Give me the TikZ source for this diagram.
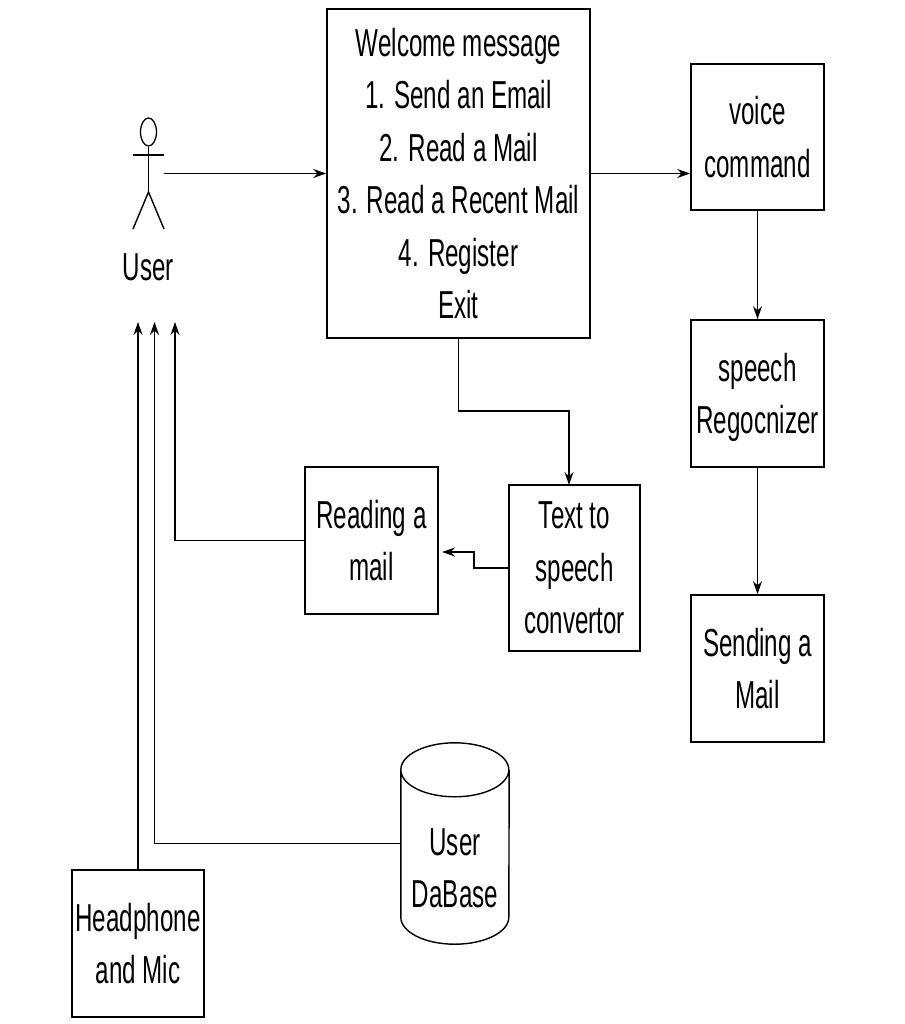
\documentclass[tikz,border=0pt]{standalone}
\usepackage{fontspec}
\setmainfont[FakeStretch=0.62]{Liberation Sans}
\usetikzlibrary{arrows.meta,shapes.geometric}
\tikzset{
    diagtext/.style = {font = \fontsize{39}{52.4}\selectfont, align = center},
    block/.style = {draw, rectangle, line width = 1.6pt, inner sep = 0pt, diagtext},
    link/.style = {line width = 1.6pt, -{Stealth[length = 13pt, width = 9pt]}},
    plainlink/.style = {line width = 1.4pt}
}

\begin{document}
\begin{tikzpicture}
        \useasboundingbox (0pt, 0pt) rectangle (904pt, -1024pt);

        % Nodes
        \node [block, minimum width = 263pt, minimum height = 329pt] (msg) at (458.5pt, -173.5pt) {Welcome message\\1. Send an Email\\2. Read a Mail\\3. Read a Recent Mail\\4. Register\\Exit};
        \node [block, minimum width = 133pt, minimum height = 146pt] (voice) at (757.5pt, -137pt) {voice\\command};
        \node [block, minimum width = 133pt, minimum height = 147pt] (speech) at (757.5pt, -393.5pt) {\rule{0pt}{36pt}speech\\Regocnizer};
        \node [block, minimum width = 133pt, minimum height = 147pt] (sending) at (757.5pt, -668.5pt) {Sending a\\Mail};
        \node [block, minimum width = 133pt, minimum height = 147pt] (reading) at (371.5pt, -540.5pt) {Reading a\\mail};
        \node [block, minimum width = 131pt, minimum height = 166pt] (convertor) at (574.5pt, -568pt) {Text to\\speech\\convertor};
        \node [block, minimum width = 132pt, minimum height = 147pt] (headset) at (138pt, -943.5pt) {Headphone\\and Mic};

        % Database
        \node [rectangle, inner sep = 0pt, minimum width = 108pt, minimum height = 201pt] (db) at (455pt, -843.5pt) {};
        \draw [plainlink] ([yshift = -27pt] db.north west) arc [start angle = 180, end angle = -180, x radius = 54pt, y radius = 27pt]
            -- ([yshift = 27pt] db.south west) arc [start angle = 180, end angle = 360, x radius = 54pt, y radius = 27pt]
            -- ([yshift = -27pt] db.north east);
        \node [diagtext] (dblabel) at (455pt, -868pt) {User\\DaBase};

        % Actor
        \node [draw, ellipse, line width = 1.3pt, inner sep = 0pt, minimum width = 16pt, minimum height = 28pt] (head) at (148.5pt, -132pt) {};
        \coordinate (hip) at (148.5pt, -192pt);
        \draw [plainlink] (head.south) -- (hip);
        \draw [plainlink] (133pt, -155pt) -- (164pt, -155pt);
        \draw [plainlink] (133pt, -229pt) -- (hip) -- (164pt, -229pt);
        \node [diagtext] (user) at (148.5pt, -267pt) {User};

        % Free ends
        \coordinate (userout) at (164pt, -173.5pt);
        \coordinate (micin) at (138pt, -322pt);
        \coordinate (dbin) at (154.5pt, -322pt);
        \coordinate (mailin) at (175pt, -322pt);
        \coordinate (convin) at (569pt, -485pt);
        \coordinate (readin) at (442pt, -552pt);

        % Lines
        \draw [link] (userout) -- (msg.west);
        \draw [link] (msg.east) -- (msg.east -| voice.west);
        \draw [link] (voice) -- (speech);
        \draw [link] (speech) -- (sending);
        \draw [link] (msg.south) -- ++(0pt, -72pt) -| (convin);
        \draw [link] (convertor.west) -- ++(-34pt, 0pt) |- (readin);
        \draw [link] (reading.west) -| (mailin);
        \draw [link] (db.west) -| (dbin);
        \draw [link] (headset.north -| micin) -- (micin);
    \end{tikzpicture}
\end{document}
